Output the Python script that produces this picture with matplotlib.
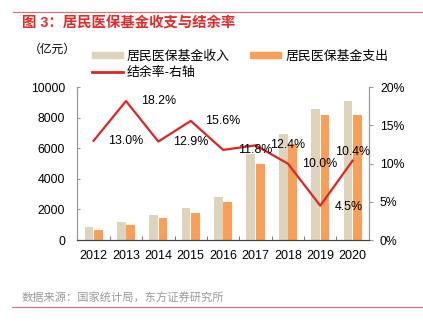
import numpy as np
import matplotlib.pyplot as plt
from matplotlib.ticker import FixedLocator, FuncFormatter
from matplotlib.lines import Line2D
from matplotlib.patches import Patch

plt.rcParams['font.family'] = ['Liberation Sans', 'Noto Sans CJK SC']

years = ['2012', '2013', '2014', '2015', '2016', '2017', '2018', '2019', '2020']
income = [850, 1180, 1640, 2100, 2820, 5650, 6970, 8575, 9115]
expense = [660, 975, 1440, 1770, 2480, 4955, 6277, 8191, 8165]
rate = [13.0, 18.2, 12.9, 15.6, 11.8, 12.4, 10.0, 4.5, 10.4]

# label offsets in points from each line point
label_offsets = [(23.2, 0)] * 7 + [(20.5, -1), (0, 6.5)]

c_income = '#DDD4BD'
c_expense = '#FB9E58'
c_rate = '#E02424'
red = '#E52A2A'

fig = plt.figure(figsize=(4.23, 3.27), dpi=100)
ax = fig.add_axes([0.183, 0.266, 0.689, 0.467])
ax2 = ax.twinx()

x = np.arange(len(years))
w = 0.27
ax.bar(x - 0.145, income, w, color=c_income)
ax.bar(x + 0.145, expense, w, color=c_expense)

ax.set_xlim(-0.5, len(years) - 0.5)
ax.set_ylim(0, 10000)
ax.set_yticks(np.arange(0, 10001, 2000))
ax.set_xticks(x)
ax.set_xticklabels(years)
ax.xaxis.set_minor_locator(FixedLocator(np.arange(0.5, len(years) - 1, 1)))
ax.tick_params(axis='x', which='major', length=0, pad=7, labelsize=9)
ax.tick_params(axis='x', which='minor', direction='in', length=3, color='#666666')
ax.tick_params(axis='y', direction='in', length=2, pad=9, labelsize=8.8, color='#999999')

ax2.plot(x, rate, color=c_rate, lw=1.6)
ax2.set_ylim(0, 20)
ax2.set_yticks([0, 5, 10, 15, 20])
ax2.yaxis.set_major_formatter(FuncFormatter(lambda v, p: f'{v:.0f}%'))
ax2.tick_params(axis='y', direction='out', length=3, pad=5, labelsize=8.8, color='#999999')

for xi, v, off in zip(x, rate, label_offsets):
    ax2.annotate(f'{v:.1f}%', (xi, v), xytext=off, textcoords='offset points',
                 ha='center', va='center', fontsize=8.9)

for a in (ax, ax2):
    a.spines['top'].set_visible(False)
    a.spines['left'].set_color('#999999')
    a.spines['right'].set_color('#999999')
    a.spines['bottom'].set_color('#444444')

handles = [Patch(color=c_income, label='居民医保基金收入'),
           Line2D([], [], color=c_rate, lw=2, label='结余率-右轴'),
           Patch(color=c_expense, label='居民医保基金支出')]
fig.legend(handles=handles, ncol=2, loc='upper left', bbox_to_anchor=(0.217, 0.847),
           frameon=False, fontsize=9.3, handlelength=2.4, handleheight=0.35,
           handletextpad=0.3, columnspacing=1.6, labelspacing=0.35,
           borderpad=0, borderaxespad=0)

fig.text(0.068, 0.848, '（亿元）', fontsize=8.5, va='center', ha='left')

# header and footer
fig.text(0.052, 0.927, '图 3：居民医保基金收支与结余率', fontsize=10.4, color=red,
         fontweight='bold', va='center', ha='left')
fig.add_artist(Line2D([0.031, 1.0], [0.963, 0.963], color='#E86A6A', lw=0.8))
fig.text(0.052, 0.089, '数据来源：国家统计局，东方证券研究所', fontsize=8.1,
         color='#9A9A9A', va='center', ha='left')
fig.add_artist(Line2D([0.029, 1.0], [0.062, 0.062], color='#E86A6A', lw=0.8))

fig.savefig('out.png', dpi=100)
